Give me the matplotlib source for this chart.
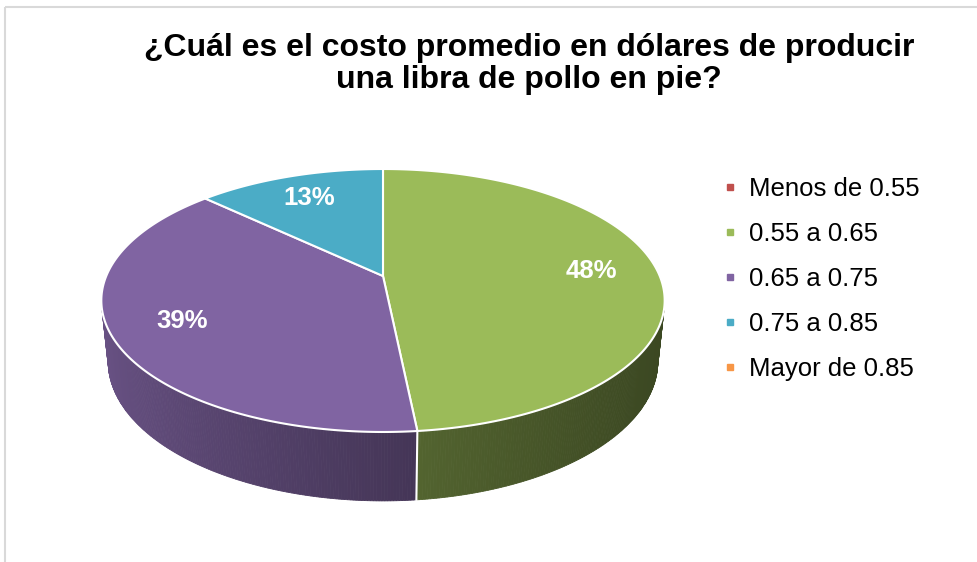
import numpy as np
import matplotlib
matplotlib.use('Agg')
import matplotlib.pyplot as plt
from matplotlib.patches import Polygon, Rectangle
from matplotlib.lines import Line2D
from matplotlib.colors import to_rgb

plt.rcParams['font.family'] = ['Liberation Sans', 'DejaVu Sans']

# data
categories = ['Menos de 0.55', '0.55 a 0.65', '0.65 a 0.75', '0.75 a 0.85', 'Mayor de 0.85']
counts = [0, 15, 12, 4, 0]
colors = ['#C0504D', '#9BBB59', '#8064A2', '#4BACC6', '#F79646']
title = '¿Cuál es el costo promedio en dólares de producir\nuna libra de pollo en pie?'

# 3d pie view (pixels)
CX, CY = 383, 276
F = 1320.0
D0 = 4.77
TH = np.radians(27.3)
H = 0.25
s_, c_ = np.sin(TH), np.cos(TH)


def proj(phi, r=1.0, y=0.0):
    ph = np.radians(phi)
    x = r * np.sin(ph)
    z = r * np.cos(ph)
    Y = y * c_ + z * s_
    D = D0 + z * c_ - y * s_
    return CX + F * x / D, CY - F * Y / D


def area(pts):
    pts = np.asarray(pts)
    x, y = pts[:, 0], pts[:, 1]
    return 0.5 * np.sum(x * np.roll(y, -1) - np.roll(x, -1) * y)


fig = plt.figure(figsize=(9.78, 5.62), dpi=100)
ax = fig.add_axes([0, 0, 1, 1])
ax.set_xlim(0, 978)
ax.set_ylim(562, 0)
ax.axis('off')

ax.add_patch(Rectangle((5, 7), 1000, 600, fill=False, edgecolor='#d9d9d9', lw=1.5))

total = float(sum(counts))
starts = np.concatenate([[0], np.cumsum(counts)[:-1]]) / total * 360
ends = np.cumsum(counts) / total * 360

# side walls
for a0, a1, col, v in zip(starts, ends, colors, counts):
    if v == 0:
        continue
    base = np.array(to_rgb(col))
    phis = np.linspace(a0, a1, int((a1 - a0) * 2) + 2)
    for p1, p2 in zip(phis[:-1], phis[1:]):
        quad = [proj(p1), proj(p2), proj(p2, y=-H), proj(p1, y=-H)]
        if area(quad) >= 0:
            continue
        t = (1 - np.sin(np.radians((p1 + p2) / 2))) / 2
        k = 0.38 + 0.44 * t ** 1.3
        fc = np.clip(base * k, 0, 1)
        ax.add_patch(Polygon(quad, closed=True, facecolor=fc, edgecolor=fc, lw=0.6, zorder=1))

# seams on visible wall
for a in ends:
    if np.cos(np.radians(a)) < -c_ / D0:
        x0, y0 = proj(a)
        x1, y1 = proj(a, y=-H)
        ax.plot([x0, x1], [y0, y1], color='white', lw=1.5, zorder=2)

# top faces
for a0, a1, col, v in zip(starts, ends, colors, counts):
    if v == 0:
        continue
    phis = np.linspace(a0, a1, int((a1 - a0) * 2) + 2)
    pts = [proj(0, r=0)] + [proj(p) for p in phis]
    ax.add_patch(Polygon(pts, closed=True, facecolor=col, edgecolor='white', lw=1.5,
                         joinstyle='round', zorder=3))
    mid = (a0 + a1) / 2
    lx, ly = proj(mid, r=0.76)
    ax.text(lx, ly, f'{round(100 * v / total):.0f}%', color='white', fontsize=18.5,
            fontweight='bold', ha='center', va='center', zorder=4)

fig.text(529 / 978, 1 - 33 / 562, title, ha='center', va='top', fontsize=23,
         fontweight='bold', linespacing=1.1)

handles = [Line2D([], [], marker='s', ls='none', color=col, markersize=5) for col in colors]
fig.legend(handles, categories, loc='upper left', bbox_to_anchor=(709 / 978, 1 - 164 / 562),
           frameon=False, fontsize=18.5, handlelength=0.6, handletextpad=0.45,
           labelspacing=0.82, borderpad=0)

fig.savefig('out.png', dpi=100)
